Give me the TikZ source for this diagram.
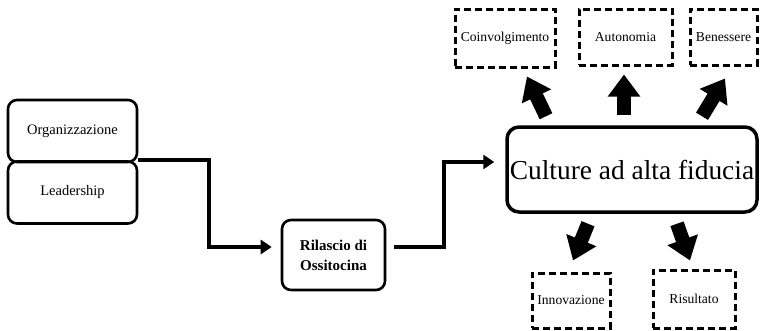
\documentclass[tikz,border=0pt]{standalone}
\usepackage{fontspec}
\setmainfont{Liberation Serif}
\usetikzlibrary{arrows.meta,calc}

\tikzset{
  solidbox/.style={draw,line width=2.6pt,rounded corners=9pt,inner sep=0pt,align=center},
  dashbox/.style={draw,line width=3pt,dash pattern=on 7pt off 4pt,inner sep=0pt,font=\fontsize{13.6}{16}\selectfont},
  flow/.style={line width=4pt,-{Triangle[length=11pt,width=14pt]}},
  bigarrow/.style={line width=14pt,-{Triangle[length=22pt,width=31pt]}}
}

\begin{document}
\begin{tikzpicture}[x=1pt,y=-1pt]
\useasboundingbox (0,0) rectangle (760,330);

\node[solidbox,minimum width=129pt,minimum height=62pt,font=\fontsize{14.5}{17}\selectfont] (org) at (72.5,131) {Organizzazione};
\node[solidbox,minimum width=129pt,minimum height=62pt,font=\fontsize{14.5}{17}\selectfont] (lead) at (72.5,192.5) {Leadership};
\node[solidbox,minimum width=103pt,minimum height=70pt,font=\bfseries\fontsize{15}{20}\selectfont] (ril) at (333.5,255) {Rilascio di\\Ossitocina};
\node[solidbox,line width=3.5pt,rounded corners=12pt,minimum width=250pt,minimum height=85pt,font=\fontsize{27.4}{30}\selectfont] (cult) at (632,169.5) {Culture ad alta fiducia};

\node[dashbox,minimum width=100pt,minimum height=58pt] (coin) at (505,38) {Coinvolgimento};
\node[dashbox,minimum width=93pt,minimum height=56pt] (auto) at (625.5,37) {Autonomia};
\node[dashbox,minimum width=67pt,minimum height=56pt] (ben) at (723.5,37) {Benessere};
\node[dashbox,minimum width=78pt,minimum height=55pt] (inn) at (571,300.5) {Innovazione};
\node[dashbox,minimum width=82pt,minimum height=58pt] (ris) at (694,299) {Risultato};

\draw[flow] (lead.north east) -- ++(71,0) |- ($(ril.west)+(-9,-8)$);
\draw[flow] ($(ril.east)+(8,-8)$) -- ++(50,0) |- ($(cult.west)+(-11,-7.5)$);

\draw[bigarrow] ($(cult.north)+(-86,-9)$) -- ($(coin.south)+(22,8)$);
\draw[bigarrow] ($(cult.north)+(-8,-10)$) -- ($(auto.south)+(-1.5,8)$);
\draw[bigarrow] ($(cult.north)+(70,-9)$) -- ($(ben.south)+(1.5,12)$);
\draw[bigarrow] ($(cult.south)+(-44,10)$) -- ($(inn.north)+(2,-11)$);
\draw[bigarrow] ($(cult.south)+(45,10)$) -- ($(ris.north)+(-4,-8)$);
\end{tikzpicture}
\end{document}
